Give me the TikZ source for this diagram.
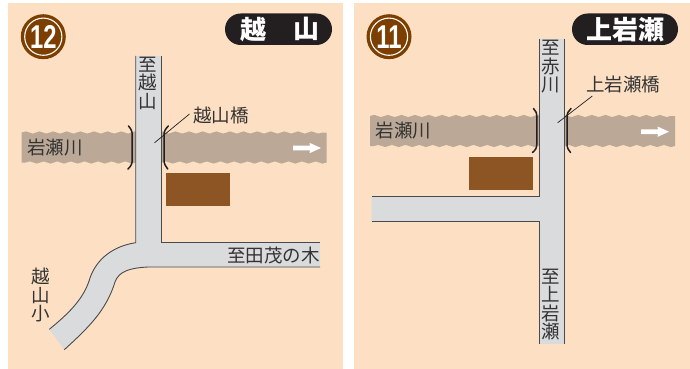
\documentclass[tikz,border=0pt]{standalone}
\usepackage{fontspec}
\setmainfont{Noto Sans CJK JP}
\newfontfamily\numfont{Liberation Sans}
\usetikzlibrary{decorations.pathmorphing,arrows.meta}
\definecolor{paper}{HTML}{FDE0C4}
\definecolor{roadfill}{HTML}{DADBDD}
\definecolor{roadline}{HTML}{4A4A4A}
\definecolor{riverc}{HTML}{BBA896}
\definecolor{housec}{HTML}{8C5523}
\definecolor{badgec}{HTML}{7C3F00}
\definecolor{pillc}{HTML}{231F20}
\definecolor{inkc}{HTML}{333333}
\tikzset{
  x=1pt,y=-1pt,
  panel/.style={fill=paper,draw=none},
  river/.style={fill=riverc,draw=none},
  wave/.style={decoration={snake,segment length=13.6,amplitude=1.1}},
  road/.style={fill=roadfill,draw=none},
  edge/.style={draw=roadline,line width=0.9pt},
  house/.style={fill=housec,draw=none},
  bridge/.style={draw=pillc,line width=1.5pt,line cap=round},
  leader/.style={draw=pillc,line width=0.7pt},
  lbl/.style={inner sep=0pt,text=inkc,align=center,font=\fontsize{18.5}{18.3}\selectfont},
  pill/.style={fill=pillc,draw=none,rounded corners=15.7pt},
  pilltxt/.style={inner sep=0pt,text=white,font=\fontsize{26}{26}\selectfont\bfseries},
  badge/.style={circle,fill=badgec,minimum size=45pt,inner sep=0pt},
  ring/.style={draw=white,line width=1.1pt},
  num/.style={inner sep=0pt,text=white,font=\fontsize{33}{33}\selectfont\numfont\bfseries},
  flow/.style={draw=none,fill=white},
}
\newcommand{\riverband}[4]{%
  \fill[river,wave] (#1,#3) decorate {-- (#2,#3)} -- (#2,#4) decorate {-- (#1,#4)} -- cycle;}
\newcommand{\flowarrow}[2]{%
  \fill[flow] (#1,#2-2.4) -- (#1+17,#2-2.4) -- (#1+16.5,#2-5.2) -- (#1+28,#2) -- (#1+16.5,#2+5.2) -- (#1+17,#2+2.4) -- (#1,#2+2.4) -- cycle;}
\begin{document}
\begin{tikzpicture}
\useasboundingbox (0,0) rectangle (690,369);
% panels
\fill[panel] (8,3) rectangle (343,369);
\fill[panel] (354,3) rectangle (690,369);

% ===== left panel =====
\riverband{21.7}{326.7}{132.5}{162.5}
\fill[house] (166,173) rectangle (230,205.7);
\fill[road] (135.7,56) -- (161.3,56) -- (161.3,242) -- (320,242) -- (320,267) -- (148,267)
  .. controls (130,268) and (119,271) .. (115,282)
  .. controls (106,311) and (88,328) .. (64.3,349.7)
  -- (49.3,329.3)
  .. controls (68,314) and (84,299) .. (90,278)
  .. controls (97,258) and (114,246) .. (135.7,242.7) -- cycle;
\draw[edge] (135.7,56) -- (135.7,242.7)
  .. controls (114,246) and (97,258) .. (90,278)
  .. controls (84,299) and (68,314) .. (49.3,329.3);
\draw[edge] (161.3,56) -- (161.3,242) -- (320,242);
\draw[edge] (320,267) -- (148,267)
  .. controls (130,268) and (119,271) .. (115,282)
  .. controls (106,311) and (88,328) .. (64.3,349.7);
\draw[bridge] (128.5,126) .. controls (131,129) and (132.2,131) .. (132.2,135) -- (132.2,160) .. controls (132.2,164) and (131,166) .. (128,169);
\draw[bridge] (168.3,126) .. controls (165.5,129) and (164,131) .. (164,135) -- (164,160) .. controls (164,164) and (165.5,166) .. (167.7,169);
\node[lbl] (ks) at (221,115.5) {越山橋};
\coordinate (ksend) at (154.5,142.8);
\coordinate (ksstart) at (189.5,114);
\draw[leader] (ksstart) -- (ksend);
\node[lbl] (rl) at (55,147.7) {岩瀬川};
\node[lbl] (tok) at (147.9,83.2) {至\\越\\山};
\node[lbl] (tot) at (273.3,255) {至田茂の木};
\node[lbl] (ksh) at (40.7,295) {越\\山\\小};
\flowarrow{293}{148}
\node[badge] (b12) at (43.3,36.7) {};
\draw[ring] (b12.center) circle (18.6);
\node[num,xscale=.72] (n12) at (43.3,36.9) {12};
\fill[pill] (225,13.5) rectangle (332,45);
\node[pilltxt] (p1a) at (253,29.2) {越};
\node[pilltxt] (p1b) at (306,29.2) {山};

% ===== right panel =====
\riverband{370}{675}{116}{146}
\fill[house] (469,157) rectangle (533,189.7);
\fill[road] (539,39) -- (564.3,39) -- (564.3,344) -- (539,344) -- (539,221.7) -- (371.7,221.7) -- (371.7,196.7) -- (539,196.7) -- cycle;
\draw[edge] (539,39) -- (539,196.7) -- (371.7,196.7);
\draw[edge] (371.7,221.7) -- (539,221.7) -- (539,344);
\draw[edge] (564.3,39) -- (564.3,344);
\draw[bridge] (533.5,108.5) .. controls (536,111) and (536.8,113) .. (536.8,117) -- (536.8,144) .. controls (536.8,148) and (535.5,150) .. (532.5,152.5);
\draw[bridge] (571,108.5) .. controls (568.5,111) and (567,113) .. (567,117) -- (567,144) .. controls (567,148) and (568.5,150) .. (570.5,152.5);
\node[lbl] (kb) at (623.3,84.5) {上岩瀬橋};
\coordinate (kbend) at (557.7,122.7);
\coordinate (kbstart) at (592.3,96);
\draw[leader] (kbstart) -- (kbend);
\node[lbl] (rr) at (403.3,131) {岩瀬川};
\node[lbl] (toa) at (551,66.7) {至\\赤\\川};
\node[lbl] (tokm) at (551,304.5) {至\\上\\岩\\瀬};
\flowarrow{641}{131.7}
\node[badge] (b11) at (389,36.7) {};
\draw[ring] (b11.center) circle (18.6);
\node[num,xscale=.72] (n11) at (389,36.9) {11};
\fill[pill] (572,13.5) rectangle (678,45);
\node[pilltxt] (p2) at (625,29.2) {上岩瀬};
\end{tikzpicture}
\end{document}
